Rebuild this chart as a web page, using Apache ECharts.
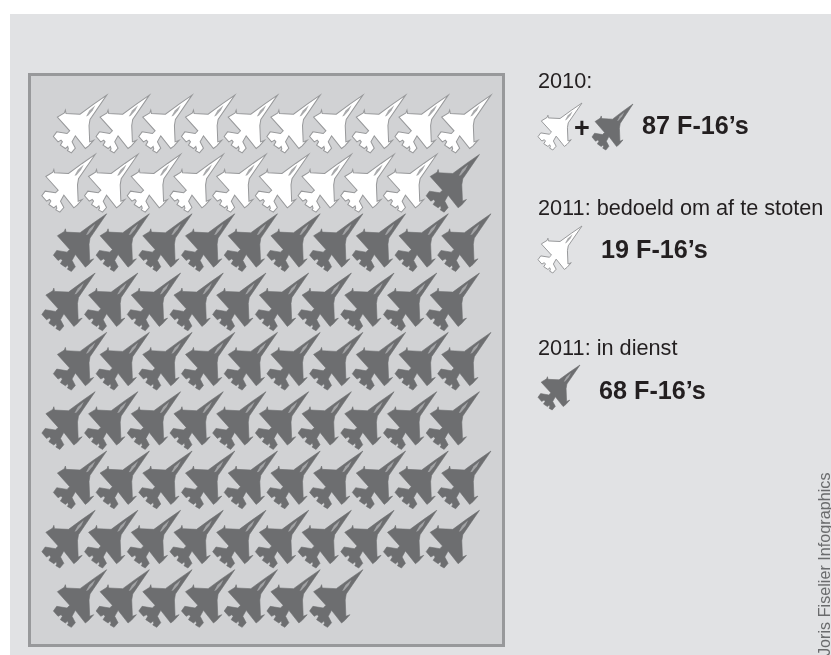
<!DOCTYPE html>
<html>
<head>
<meta charset="utf-8">
<style>html,body{margin:0;padding:0;background:#fff}#c{width:831px;height:655px}</style>
<script src="https://cdn.jsdelivr.net/npm/echarts@6/dist/echarts.min.js"></script>
</head>
<body>
<div id="c"></div>
<script>
// Number of jets per row of the pictogram
const retiredPerRow = [10, 9, 0, 0, 0, 0, 0, 0, 0];
const activePerRow  = [0, 1, 10, 10, 10, 10, 10, 10, 7];
// Texts
const heading2010 = '2010:';
const headingRetired = '2011: bedoeld om af te stoten';
const headingActive = '2011: in dienst';
const total2010 = "87 F-16\u2019s";
const totalRetired = "19 F-16\u2019s";
const totalActive = "68 F-16\u2019s";
const credit = 'Joris Fiselier Infographics';

const jetBody = 'M230,46 L191,73 L150,103 L108,101 L106,91 L103,99 L82,112 L119,153 L111,161 L80,156 L70,170 L84,186 L93,181 L97,186 L91,196 L106,206 L113,200 L115,207 L112,212 L124,219 L136,205 L126,186 L136,168 L166,206 L176,198 L191,181 L179,186 L177,137 L180,119 Z';
const jetCanopy = 'M196,76 L188,92 L174,108 L168,110 L178,92 Z';
const WHITE = {fill:'#ffffff', stroke:'#97989a', lineWidth:1, canopy:'#a9aaac'};
const DARK  = {fill:'#6d6e70', stroke:'#6d6e70', lineWidth:0.6, canopy:'#a3a4a6'};
const FONT = '"Liberation Sans", Arial, sans-serif';
const BOX = {x:70, y:46, w:160, h:173};

function jetShape(cx, cy, w, h, st) {
  const sx = w / BOX.w, sy = h / BOX.h;
  const lw = st.lineWidth / sx;
  return {type:'group', x:cx - (BOX.x + BOX.w/2)*sx, y:cy - (BOX.y + BOX.h/2)*sy, scaleX:sx, scaleY:sy, children:[
    {type:'path', shape:{pathData:jetBody, layout:'cover', x:BOX.x, y:BOX.y, width:BOX.w, height:BOX.h},
      style:{fill:st.fill, stroke:st.stroke, lineWidth:lw, lineJoin:'miter'}},
    {type:'path', shape:{pathData:jetCanopy, layout:'cover', x:168, y:76, width:28, height:34},
      style:{fill:st.canopy}}
  ]};
}

const stagger = r => r % 2 === 0 ? 0.27 : 0;
function build() {
  const w = [], d = [];
  retiredPerRow.forEach((n, r) => {
    for (let c = 0; c < n; c++) w.push([c + stagger(r), r]);
    for (let c = 0; c < activePerRow[r]; c++) d.push([n + c + stagger(r), r]);
  });
  return {w, d};
}
const pts = build();

const icons = [
  {x:538, y:103, width:44, height:47, st:WHITE},
  {x:592, y:104, width:41, height:46, st:DARK},
  {x:538, y:226, width:44, height:47, st:WHITE},
  {x:538, y:365, width:42, height:45, st:DARK}
];
function label(text, x, y, size, bold) {
  return {type:'text', x, y, silent:true, style:{text, fill:'#231f20', font:(bold?'bold ':'')+size+'px '+FONT, textVerticalAlign:'middle'}};
}
const jetSeries = (name, data, st) => ({
  type:'custom', name, coordinateSystem:'cartesian2d', data, encode:{x:0, y:1}, silent:true, clip:false,
  renderItem:(params, api) => {
    const p = api.coord([api.value(0), api.value(1)]);
    return jetShape(p[0], p[1], 53.3, 57.7, st);
  }
});

const chart = echarts.init(document.getElementById('c'), null, {renderer:'canvas'});
chart.setOption({
  animation:false,
  backgroundColor:'#ffffff',
  grid:{left:68.5, top:124, width:427, height:474.5},
  xAxis:{type:'value', min:0, max:10, show:false},
  yAxis:{type:'value', min:0, max:8, inverse:true, show:false},
  graphic:[
    {type:'rect', shape:{x:10,y:14,width:821,height:641}, style:{fill:'#e1e2e4'}, silent:true},
    {type:'rect', shape:{x:29.5,y:74.5,width:474,height:571}, style:{fill:'#d1d2d4',stroke:'#98999b',lineWidth:3}, silent:true},
    label(heading2010, 538, 82.5, 21.7),
    label('+', 574, 130, 27, true),
    label(total2010, 642, 127, 25.2, true),
    label(headingRetired, 538, 209.5, 21.7),
    label(totalRetired, 601, 251, 25.2, true),
    label(headingActive, 538, 349.5, 21.7),
    label(totalActive, 599, 392, 25.2, true),
    {type:'text', x:825.5, y:656, rotation:Math.PI/2, silent:true,
      style:{text:credit, fill:'#6a6b6d', font:'16.2px '+FONT, textVerticalAlign:'middle'}}
  ],
  series:[
    jetSeries('Bedoeld om af te stoten', pts.w, WHITE),
    jetSeries('In dienst', pts.d, DARK),
    {type:'custom', name:'Legenda', coordinateSystem:'none', data:icons.map((_, i) => i), silent:true,
      renderItem:(params) => {
        const k = icons[params.dataIndex];
        return jetShape(k.x + k.width/2, k.y + k.height/2, k.width, k.height, k.st);
      }}
  ]
});
</script>
</body>
</html>
